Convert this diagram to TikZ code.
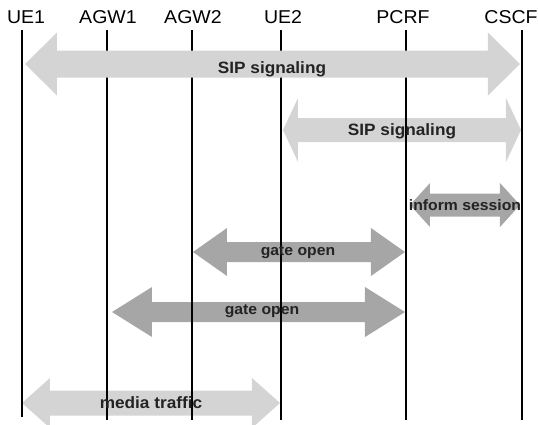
\documentclass[tikz,border=0pt]{standalone}
\usepackage{fontspec}
\newfontfamily\arialwide[FakeStretch=1.05]{Liberation Sans}
\usetikzlibrary{positioning}
\definecolor{lightarrow}{RGB}{212,212,212}
\definecolor{darkarrow}{RGB}{166,166,166}
\definecolor{labeltext}{RGB}{35,35,35}

% double block arrow: style, left tip, right tip, y, half shaft, half head, head length
\newcommand{\msgarrow}[7]{%
  \fill[#1] (#2,#4) -- ++(#7,-#6) -- ++(0,#6-#5) -- (#3-#7,#4-#5) -- ++(0,#5-#6)
    -- (#3,#4) -- ++(-#7,#6) -- ++(0,#5-#6) -- (#2+#7,#4+#5) -- ++(0,#6-#5) -- cycle;}

\begin{document}
\begin{tikzpicture}[x=0.5pt, y=-0.5pt,
  entity/.style={anchor=base, inner sep=0pt, font=\arialwide\fontsize{9.3}{11}\selectfont},
  life/.style={draw, line width=0.7pt},
  msg/.style={anchor=base, inner sep=0pt, text=labeltext, font=\arialwide\bfseries\fontsize{8.2}{10}\selectfont},
  smallmsg/.style={msg, font=\arialwide\bfseries\fontsize{7.5}{9}\selectfont},
  light/.style={fill=lightarrow},
  dark/.style={fill=darkarrow}
]
\useasboundingbox (0,0) rectangle (538,425);

% Arrows behind the lifelines
\msgarrow{light}{283}{521}{130}{12}{32}{15}
\msgarrow{dark}{410}{520}{205}{11.5}{22}{20}
\msgarrow{dark}{193}{405}{252}{10}{24}{34}
\msgarrow{dark}{112}{405}{312}{10}{25}{40}
\msgarrow{light}{22}{280}{403}{12.5}{25}{28}

% Entities and lifelines
\node[entity] (ue1) at (26,23) {UE1};
\node[entity] (agw1) at (108,23) {AGW1};
\node[entity] (agw2) at (193,23) {AGW2};
\node[entity] (ue2) at (283,23) {UE2};
\node[entity] (pcrf) at (403,23) {PCRF};
\node[entity] (cscf) at (511,23) {CSCF};

\draw[life] (22,30) -- (22,417);
\draw[life] (107,30) -- (107,420);
\draw[life] (192,30) -- (192,420);
\draw[life] (281,30) -- (281,420);
\draw[life] (406,30) -- (406,420);
\draw[life] (522,30) -- (522,420);

% First arrow lies over the lifelines
\msgarrow{light}{25}{520}{64}{13.5}{31.5}{32}

% Message labels
\node[msg] (sip1) at (272,73) {SIP signaling};
\node[msg] (sip2) at (402,135) {SIP signaling};
\node[smallmsg] (inform) at (465,210) {inform session};
\node[smallmsg] (gate1) at (298,255) {gate open};
\node[smallmsg] (gate2) at (262,314) {gate open};
\node[msg] (media) at (151,408) {media traffic};

\end{tikzpicture}
\end{document}
